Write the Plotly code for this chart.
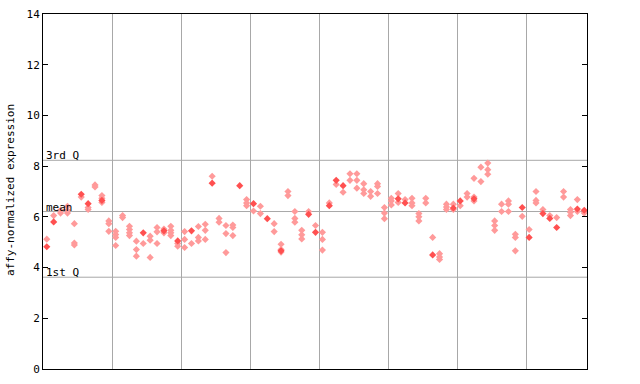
import plotly.graph_objects as go

# sample index (0..78) and expression values
# replicate-level points (hatched diamonds)
rep_samples = [
    0, 1, 2, 2, 3, 3, 3, 4, 4, 4, 5, 6, 6, 7, 7, 8, 8, 8, 9, 9, 9,
    10, 10, 10, 10, 11, 11, 12, 12, 12, 12, 13, 13, 13, 14, 15, 15, 15, 16, 16, 16,
    17, 17, 18, 18, 18, 18, 19, 19,
    20, 20, 20, 21, 22, 22, 22, 23, 23, 23, 24, 25, 25, 26, 26, 26, 27, 27, 27,
    29, 29, 29,
    30, 31, 31, 33, 33, 34, 34, 34, 35, 35, 36, 36, 36, 37, 37, 37, 38, 39,
    40, 40, 40, 41, 42, 43, 44, 44, 45, 45, 45, 46, 46, 46, 47, 47, 48, 48, 48,
    49, 49, 49,
    50, 50, 50, 51, 51, 52, 53, 53, 53, 54, 54, 54, 55, 55, 56, 57, 57, 57,
    58, 58, 58, 59, 59,
    60, 61, 61, 62, 62, 62, 63, 63, 64, 64, 64, 65, 65, 65, 66, 66, 67, 67, 67,
    68, 68, 68, 69,
    70, 71, 71, 71, 72, 73, 74, 75, 75, 76, 76, 76, 77, 77, 78,
]
rep_values = [
    5.12, 6.05, 6.26, 6.15, 6.42, 6.26, 6.15, 5.73, 4.97, 4.89, 6.78, 6.37, 6.29,
    7.26, 7.18, 6.84, 6.73, 6.57, 5.84, 5.73, 5.43,
    5.43, 5.30, 5.19, 4.87, 6.05, 5.97, 5.63, 5.50, 5.37, 5.26, 5.04, 4.71, 4.45,
    4.95, 5.24, 5.08, 4.40, 5.58, 5.41, 4.95, 5.52, 5.37, 5.63, 5.47, 5.37, 5.26,
    4.95, 4.84,
    5.42, 5.11, 4.79, 4.95, 5.62, 5.19, 5.05, 5.71, 5.47, 5.11, 7.60, 5.94, 5.79,
    5.66, 5.34, 4.59, 5.68, 5.58, 5.26, 6.68, 6.55, 6.44,
    6.23, 6.42, 6.13, 5.73, 5.42, 4.92, 4.71, 4.61, 7.00, 6.84, 6.21, 5.94, 5.79,
    5.47, 5.29, 5.13, 6.21, 5.66,
    5.39, 5.11, 4.69, 6.55, 7.28, 6.97, 7.70, 7.44, 7.70, 7.44, 7.13, 7.31, 7.07,
    6.92, 7.00, 6.81, 7.31, 7.20, 6.92, 6.37, 6.15, 5.93,
    6.73, 6.63, 6.47, 6.92, 6.57, 6.68, 6.73, 6.55, 6.44, 6.13, 6.00, 5.84, 6.73,
    6.55, 5.19, 4.55, 4.42, 4.32, 6.50, 6.39, 6.29, 6.50, 6.29,
    6.44, 6.92, 6.78, 7.52, 6.78, 6.63, 7.96, 7.39, 8.12, 7.86, 7.68, 5.84, 5.66,
    5.47, 6.50, 6.21, 6.63, 6.50, 6.21, 5.31, 5.19, 4.66, 6.02,
    5.50, 7.00, 6.65, 6.55, 6.29, 6.05, 5.97, 7.00, 6.78, 6.29, 6.18, 6.05, 6.68,
    6.21, 6.15,
]
# sample-level points (solid diamonds)
mean_samples = [0, 1, 5, 6, 8, 14, 17, 19, 21, 24, 28, 30, 32, 34, 38, 39,
                41, 42, 43, 51, 52, 56, 59, 60, 62, 69, 70, 72, 73, 74, 77, 78]
mean_values = [4.82, 5.80, 6.89, 6.52, 6.65, 5.37, 5.45, 5.05, 5.45, 7.33, 7.23,
               6.52, 5.93, 4.66, 6.10, 5.39, 6.44, 7.44, 7.23, 6.71, 6.55, 4.50,
               6.35, 6.63, 6.71, 6.37, 5.19, 6.13, 5.94, 5.58, 6.31, 6.26]

group_bounds = [9.6, 19.6, 29.6, 39.6, 49.6, 59.6, 69.6]
y_ticks = [0, 2, 4, 6, 8, 10, 12, 14]
q_names = ["3rd Q", "mean", "1st Q"]
q_values = [8.23, 6.21, 3.62]

FONT = "DejaVu Sans Mono"
GRID = "#a8a8a8"

fig = go.Figure()
fig.add_trace(go.Scatter(
    x=rep_samples, y=rep_values, mode="markers",
    marker=dict(symbol="diamond", size=5.5, color="#ff9a9a", line=dict(width=0)),
    hoverinfo="y", showlegend=False))
fig.add_trace(go.Scatter(
    x=mean_samples, y=mean_values, mode="markers",
    marker=dict(symbol="diamond", size=5.5, color="#ff5050", line=dict(width=0)),
    hoverinfo="y", showlegend=False))

for name, v in zip(q_names, q_values):
    fig.add_shape(type="line", xref="paper", yref="y", x0=0, x1=1, y0=v, y1=v,
                  line=dict(color=GRID, width=1), layer="below")
    fig.add_annotation(xref="paper", yref="y", x=0.002, y=v, text=name,
                       showarrow=False, xanchor="left", yanchor="bottom",
                       yshift=-4, font=dict(family=FONT, size=11, color="black"))

fig.add_annotation(xref="paper", yref="paper", x=-0.06, y=0.505, xanchor="center",
                   yanchor="middle", text="affy-normalized expression",
                   textangle=-90, showarrow=False,
                   font=dict(family=FONT, size=11, color="black"))

fig.update_layout(
    width=640, height=384,
    margin=dict(l=43, r=53, t=14, b=15, autoexpand=False),
    paper_bgcolor="white", plot_bgcolor="white",
    font=dict(family=FONT, size=11, color="black"),
    xaxis=dict(range=[-0.55, 78.4], tickvals=group_bounds, showticklabels=False,
               ticks="", showgrid=True, gridcolor=GRID, gridwidth=1,
               showline=True, linecolor="black", linewidth=1, mirror=True,
               zeroline=False, fixedrange=True, automargin=False),
    yaxis=dict(range=[0, 14], tickvals=y_ticks, ticks="inside", ticklen=5,
               tickcolor="black", showgrid=False, zeroline=False,
               showline=True, linecolor="black", linewidth=1, mirror="ticks",
               tickfont=dict(family=FONT, size=11), fixedrange=True,
               automargin=False),
)

fig.write_html("out.html", config={"displayModeBar": False},
               post_script="document.body.style.margin='0';document.body.style.overflow='hidden';")
